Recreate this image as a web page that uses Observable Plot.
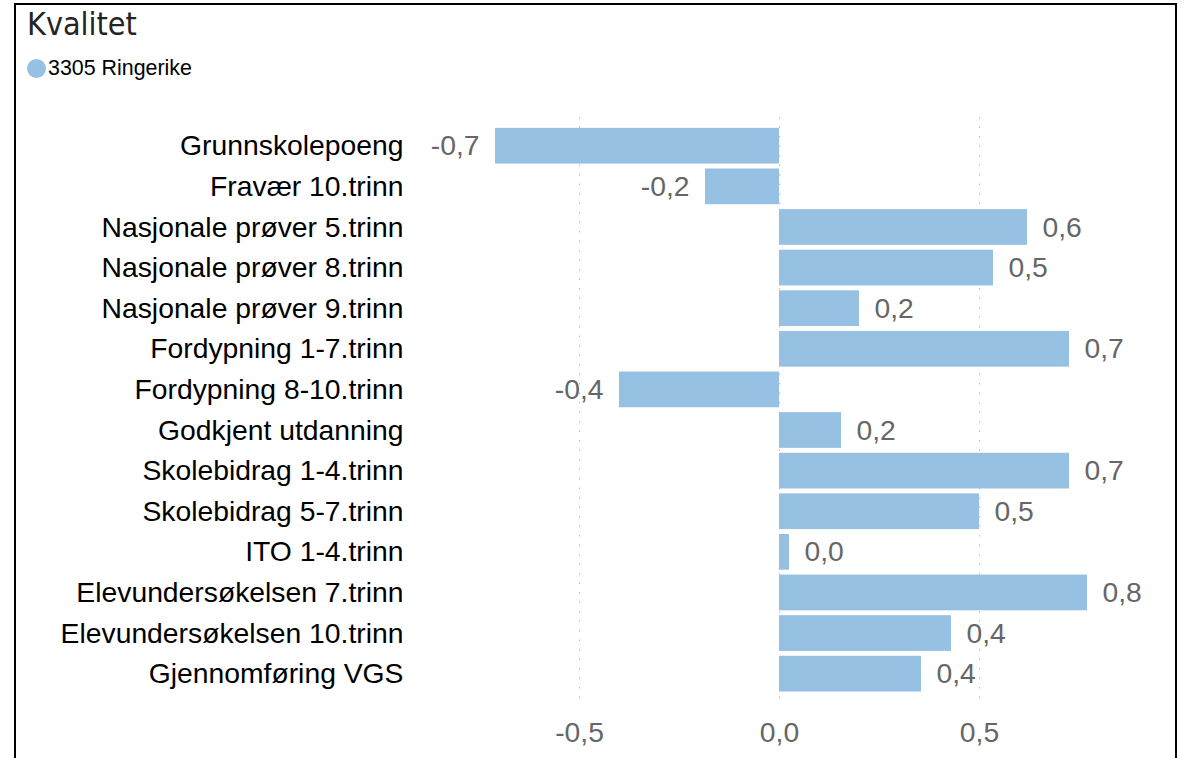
<!DOCTYPE html>
<html><head><meta charset="utf-8">
<script src="https://cdn.jsdelivr.net/npm/d3@7"></script>
<script src="https://cdn.jsdelivr.net/npm/@observablehq/plot@0.6"></script>
<style>
html,body{margin:0;padding:0;background:#fff;width:1184px;height:758px;overflow:hidden;position:relative;}
#frame{position:absolute;left:14px;top:3px;width:1159px;height:800px;border:2px solid #000;border-bottom:none;z-index:5;pointer-events:none;}
#title{position:absolute;left:27px;top:7.9px;font-size:32px;line-height:32px;font-family:"DejaVu Sans Condensed","DejaVu Sans",sans-serif;color:#252423;white-space:nowrap;}
#legend{position:absolute;left:27px;top:57.9px;font-size:21.4px;line-height:21.4px;font-family:"Liberation Sans",Arial,sans-serif;color:#000;white-space:nowrap;display:flex;align-items:center;}
#legend .dot{display:inline-block;width:19px;height:19px;border-radius:50%;background:#97C1E2;margin-right:2px;}
#chart{position:absolute;left:0;top:100px;}
</style>
</head><body>
<div id="frame"></div>
<div id="title">Kvalitet</div>
<div id="legend"><span class="dot"></span><span id="legendText"></span></div>
<div id="chart"></div>
<script>
const seriesName = "3305 Ringerike";
const categories = [
  "Grunnskolepoeng",
  "Fravær 10.trinn",
  "Nasjonale prøver 5.trinn",
  "Nasjonale prøver 8.trinn",
  "Nasjonale prøver 9.trinn",
  "Fordypning 1-7.trinn",
  "Fordypning 8-10.trinn",
  "Godkjent utdanning",
  "Skolebidrag 1-4.trinn",
  "Skolebidrag 5-7.trinn",
  "ITO 1-4.trinn",
  "Elevundersøkelsen 7.trinn",
  "Elevundersøkelsen 10.trinn",
  "Gjennomføring VGS"
];
const values = [-0.71, -0.185, 0.62, 0.535, 0.2, 0.725, -0.4, 0.155, 0.725, 0.5, 0.025, 0.77, 0.43, 0.355];
const xTicks = [-0.5, 0, 0.5];

document.getElementById("legendText").textContent = seriesName;

const fmt = v => v.toFixed(1).replace(".", ",");
const data = categories.map((name, i) => ({name, value: values[i]}));
const pos = data.filter(d => d.value >= 0);
const neg = data.filter(d => d.value < 0);

const plot = Plot.plot({
  width: 1184,
  height: 658,
  marginLeft: 459,
  marginRight: 45,
  marginTop: 23,
  marginBottom: 61.6,
  style: {fontFamily: "'Liberation Sans', Arial, sans-serif", background: "transparent", overflow: "visible"},
  x: {domain: [-0.8, 0.9]},
  y: {domain: categories, padding: 0.12, round: false},
  marks: [
    Plot.gridX(xTicks, {stroke: "#bdbdbd", strokeOpacity: 1, strokeDasharray: "1.5,8", insetTop: -6, insetBottom: -6}),
    Plot.barX(data, {x: "value", y: "name", fill: "#97C1E2"}),
    Plot.text(pos, {x: "value", y: "name", text: d => fmt(d.value), textAnchor: "start", dx: 15, fill: "#666", fontSize: 28.3}),
    Plot.text(neg, {x: "value", y: "name", text: d => fmt(d.value), textAnchor: "end", dx: -16, fill: "#666", fontSize: 28.3}),
    Plot.axisY({tickSize: 0, tickPadding: 56, fontSize: 28.3, color: "#000", label: null}),
    Plot.axisX(xTicks, {tickSize: 0, tickPadding: 25, tickFormat: fmt, fontSize: 28.3, color: "#666", label: null})
  ]
});
document.getElementById("chart").appendChild(plot);
</script>
</body></html>
